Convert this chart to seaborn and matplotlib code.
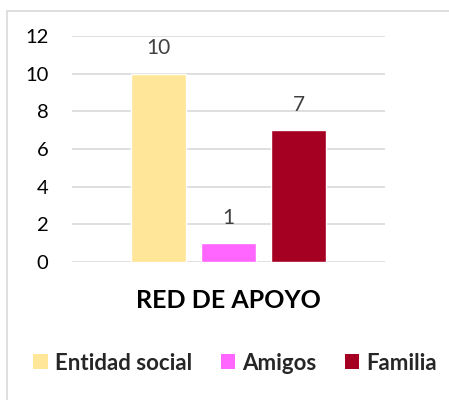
import matplotlib
matplotlib.use("Agg")
import matplotlib.pyplot as plt
from matplotlib.patches import Rectangle
import seaborn as sns
import pandas as pd

GROUP = "RED DE APOYO"
CATEGORIES = ["Entidad social", "Amigos", "Familia"]
VALUES = [10, 1, 7]
COLORS = ["#FFE699", "#FF66FF", "#A50021"]
Y_TICKS = [0, 2, 4, 6, 8, 10, 12]

sns.set_style("white")
plt.rcParams["font.family"] = ["Lato", "DejaVu Sans"]

W, H = 449, 400


def main():
    df = pd.DataFrame({"group": [GROUP] * len(CATEGORIES), "serie": CATEGORIES, "valor": VALUES})

    fig = plt.figure(figsize=(W / 100, H / 100), dpi=100)
    # outer chart border (cut at right/bottom like the screenshot)
    fig.patches.append(Rectangle(
        (7 / W, -0.1), 1.2, (H - 11) / H + 0.1, transform=fig.transFigure,
        fill=False, ec="#d9d9d9", lw=1.2
    ))
    ax = fig.add_axes([72 / W, (H - 262) / H, (385 - 72) / W, (262 - 36) / H])

    sns.barplot(
        data=df, x="group", y="valor", hue="serie", hue_order=CATEGORIES,
        palette=dict(zip(CATEGORIES, COLORS)), width=0.671, gap=0.214,
        saturation=1, ax=ax, legend=False, zorder=3
    )
    ax.set_ylim(0, 12)
    ax.set_xlim(-0.5, 0.5)
    ax.set_yticks(Y_TICKS)
    ax.tick_params(axis="y", labelsize=14.5, length=0, pad=17, labelcolor="black")
    ax.set_xticks([])
    ax.set_xlabel("")
    ax.set_ylabel("")
    ax.yaxis.grid(True, color="#d9d9d9", lw=1.2, zorder=0)
    ax.set_axisbelow(True)
    sns.despine(ax=ax, left=True, bottom=True)

    for cont in ax.containers:
        ax.bar_label(cont, padding=11, fontsize=15, color="#404040")

    fig.text(228.5 / W, 1 - 300 / H, GROUP, ha="center", va="center",
             fontsize=18, fontweight="bold", color="black")

    handles = [Rectangle((0, 0), 1, 1, fc=c, ec="none") for c in COLORS]
    fig.legend(
        handles, CATEGORIES, loc="center", bbox_to_anchor=(235 / W, 1 - 363 / H),
        ncol=3, frameon=False, handlelength=0.65, handleheight=0.65,
        handletextpad=0.3, columnspacing=1.3,
        prop={"size": 16, "weight": "bold"}
    )

    fig.savefig("out.png", dpi=100)


if __name__ == "__main__":
    main()
